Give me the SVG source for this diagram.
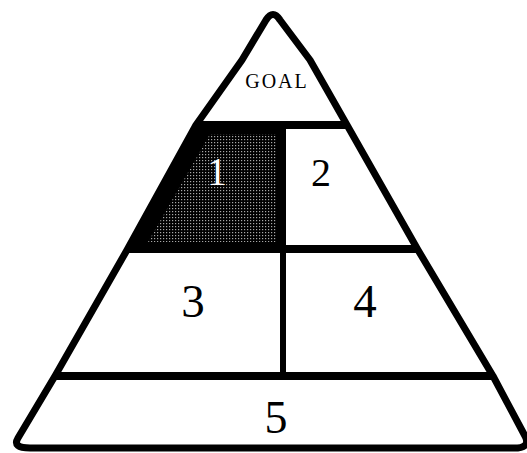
<svg xmlns="http://www.w3.org/2000/svg" width="527" height="453" viewBox="0 0 527 453">
  <style>
    .ln { stroke: #000; fill: none; stroke-linecap: butt; }
    .out { stroke: #000; stroke-width: 7; fill: #fff; stroke-linejoin: round; }
    .num { font-family: "Liberation Serif", "Times New Roman", serif; fill: #000; text-anchor: middle; }
  </style>
  <defs>
    <pattern id="dots" x="0" y="0" width="3" height="3" patternUnits="userSpaceOnUse">
      <rect width="3" height="3" fill="#000"/>
      <rect x="1" y="1" width="1.2" height="1.2" fill="#a8a8a8"/>
    </pattern>
  </defs>
  <g id="pyramid">
    <path class="out" d="M 18,438 L 55,376 L 127,250 L 196,125 L 242,60 L 266,20 Q 273,9 280,20 L 310,60 L 347,125 L 418,250 L 493,376 L 525,436 Q 531,448 514,448 L 30,448 Q 12,448 18,438 Z"/>
  </g>
  <g id="region1">
    <polygon points="196,125 283,125 283,249 127,249" fill="#000"/>
    <polygon points="210,134 277,134 277,242 148,242" fill="url(#dots)"/>
    <text class="num" x="217" y="185" font-size="40" fill="#fff" style="fill:#fff">1</text>
  </g>
  <g id="lines">
    <line class="ln" x1="196" y1="125" x2="347" y2="125" stroke-width="8"/>
    <line class="ln" x1="127" y1="249" x2="418" y2="249" stroke-width="8"/>
    <line class="ln" x1="55" y1="376" x2="493" y2="376" stroke-width="8"/>
    <line class="ln" x1="283" y1="125" x2="283" y2="249" stroke-width="6"/>
    <line class="ln" x1="283" y1="249" x2="283" y2="376" stroke-width="6"/>
  </g>
  <g id="goal">
    <text class="num" x="277" y="88" font-size="20" letter-spacing="2">GOAL</text>
  </g>
  <g id="region2">
    <text class="num" x="321" y="186" font-size="40">2</text>
  </g>
  <g id="region3">
    <text class="num" x="193" y="317" font-size="47">3</text>
  </g>
  <g id="region4">
    <text class="num" x="365" y="317" font-size="47">4</text>
  </g>
  <g id="region5">
    <text class="num" x="276" y="433" font-size="46">5</text>
  </g>
</svg>
